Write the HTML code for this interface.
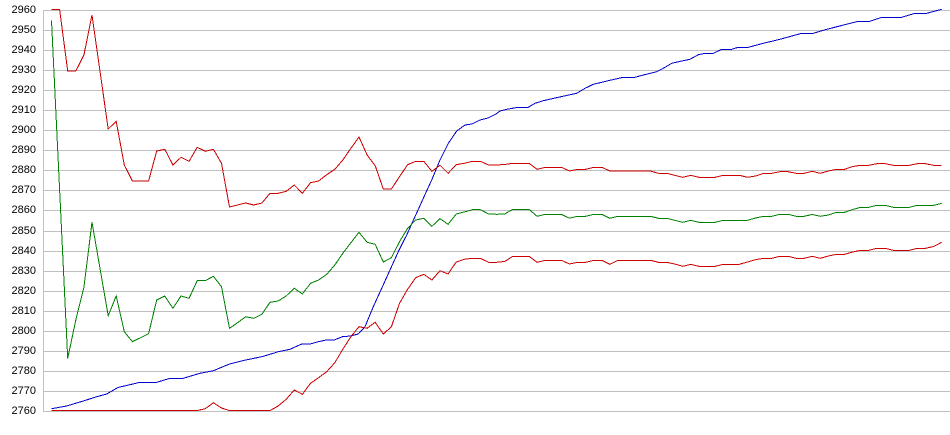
<!DOCTYPE html>
<html>
<head>
<meta charset="utf-8">
<style>
  html, body { margin: 0; padding: 0; background: #ffffff; }
  svg { display: block; }
  text { font-family: "Liberation Sans", Arial, sans-serif; font-size: 11px; fill: #000; }
</style>
</head>
<body>
<svg width="950" height="435" viewBox="0 0 950 435" xmlns="http://www.w3.org/2000/svg">
  <rect x="0" y="0" width="950" height="435" fill="#ffffff"/>
  <g fill="#c0c0c0">
    <rect x="43" y="10" width="907" height="1"/>
    <rect x="43" y="30" width="907" height="1"/>
    <rect x="43" y="50" width="907" height="1"/>
    <rect x="43" y="70" width="907" height="1"/>
    <rect x="43" y="90" width="907" height="1"/>
    <rect x="43" y="110" width="907" height="1"/>
    <rect x="43" y="130" width="907" height="1"/>
    <rect x="43" y="150" width="907" height="1"/>
    <rect x="43" y="170" width="907" height="1"/>
    <rect x="43" y="190" width="907" height="1"/>
    <rect x="43" y="210" width="907" height="1"/>
    <rect x="43" y="231" width="907" height="1"/>
    <rect x="43" y="251" width="907" height="1"/>
    <rect x="43" y="271" width="907" height="1"/>
    <rect x="43" y="291" width="907" height="1"/>
    <rect x="43" y="311" width="907" height="1"/>
    <rect x="43" y="331" width="907" height="1"/>
    <rect x="43" y="351" width="907" height="1"/>
    <rect x="43" y="371" width="907" height="1"/>
    <rect x="43" y="391" width="907" height="1"/>
    <rect x="43" y="411" width="907" height="1"/>
    <rect x="43" y="10" width="1" height="402"/>
  </g>
  <g text-anchor="end">
    <text x="36" y="13">2960</text>
    <text x="36" y="33">2950</text>
    <text x="36" y="53">2940</text>
    <text x="36" y="73">2930</text>
    <text x="36" y="93">2920</text>
    <text x="36" y="113">2910</text>
    <text x="36" y="133">2900</text>
    <text x="36" y="153">2890</text>
    <text x="36" y="173">2880</text>
    <text x="36" y="193">2870</text>
    <text x="36" y="213">2860</text>
    <text x="36" y="234">2850</text>
    <text x="36" y="254">2840</text>
    <text x="36" y="274">2830</text>
    <text x="36" y="294">2820</text>
    <text x="36" y="314">2810</text>
    <text x="36" y="334">2800</text>
    <text x="36" y="354">2790</text>
    <text x="36" y="374">2780</text>
    <text x="36" y="394">2770</text>
    <text x="36" y="414">2760</text>
  </g>
  <g fill="none" stroke-width="1" shape-rendering="crispEdges" stroke-linejoin="miter">
    <polyline stroke="#0000cc" points="51.5,408.7 66.7,406 83.3,401 96.7,396.7 106.7,394 118,387.5 140,382.3 156.7,382.3 170,378.3 183.3,378.3 200,373.3 213.4,370.7 229.5,364 245.7,360 261.9,356.7 270,354.3 278.3,351.7 290,349.3 301.7,344 310.3,344 318.3,341.7 326.3,340 334.3,340 342.3,336.7 350.3,336 358.3,334 365,326.7 373.3,306.7 381.7,288.3 390,270 398.3,251.7 406.7,235 415,216.7 423.3,198.3 431.7,180 440,160 448.3,143.3 456.7,131 465,125 472,124 480,120 488,118 496,114 500,111 506.7,109.3 518.3,107.3 528.3,107.3 535,103.3 543.3,100.7 558.3,97.3 576.7,93.3 585,88.3 593.3,84.3 610,80.3 623.3,77.3 635,77.3 643.3,75 656.7,71.7 663.3,68.3 671.7,63.3 681.7,61 690,59.3 698.3,54.7 705,53.3 713.3,53.3 721.7,49.3 731.7,49.3 738.3,47.3 748.3,47.3 763.3,43.3 780,39.3 801.7,33.3 813.3,33.3 826.7,29.3 858.3,21.3 870,21.3 881.7,17.3 901.7,17.3 915,13.3 926.7,13.3 941.7,9.3"/>
    <polyline stroke="#008000" points="51.5,20.7 59.6,189.5 67.7,358.3 75.8,320 83.9,287.3 92,222.3 100.1,269 108.2,315.7 116.2,296 124.3,331.7 132.4,341.7 140.5,337.7 148.6,333.7 156.7,300 164.8,296 172.9,308.3 181,296 189.1,298.3 197.2,280.7 205.3,280.7 213.4,276.3 221.5,286.7 229.5,328.3 237.6,322.7 245.7,316.7 253.8,318.3 261.9,314.3 270,302.3 278.1,301 286.2,296 294.3,288.3 302.4,294 310.5,283.3 318.6,280 326.7,274.3 334.8,265 342.8,253.3 350.9,242.7 359,232.3 367.1,242.3 375.2,244.3 383.3,262 391.4,257.7 399.5,241.7 407.6,228.3 415.7,220 423.8,218.3 431.9,226.3 440,218.7 448.1,224.3 456.2,214 464.2,212 472.3,209.7 480.4,209.7 488.5,214 496.6,214.3 504.7,214 512.8,209.3 520.9,209.3 529,209.3 537.1,216.3 545.2,214.3 553.3,214.3 561.4,214.3 569.5,218.3 577.5,216.3 585.6,216.3 593.7,214.3 601.8,214.3 609.9,218.3 618,216.3 626.1,216.3 634.2,216.3 642.3,216.3 650.4,216.3 658.5,218.3 666.6,218.3 674.7,220.3 682.8,222.3 690.8,220.3 698.9,222.3 707,222.3 715.1,222.3 723.2,220.3 731.3,220.3 739.4,220.3 747.5,220.3 755.6,218 763.7,216.3 771.8,216.3 779.9,214.3 788,214.3 796.1,216.3 804.1,216.3 812.2,214.5 820.3,216.3 828.4,215 836.5,212.3 844.6,212.3 852.7,209.5 860.8,207.3 868.9,207.3 877,205.3 885.1,205.3 893.2,207.3 901.3,207.3 909.4,207.3 917.5,205.3 925.5,205.3 933.6,205.3 941.7,203.3"/>
    <polyline stroke="#cc0000" points="51.5,410.6 197.2,410.6 205.3,408.7 213.4,402.7 221.5,408 229.5,410.6 270,410.6 278.1,406 286.2,399.3 294.3,390 302.4,394.3 310.5,383.3 318.6,377.7 326.7,371.7 334.8,362.7 342.8,349.3 350.9,336.7 359,326.7 367.1,328.3 375.2,322.3 383.3,334 391.4,326.7 399.5,303.3 407.6,289.3 415.7,277.7 423.8,274.3 431.9,280 440,270.7 448.1,274 456.2,262 464.2,259.3 472.3,258.3 480.4,258.3 488.5,262.3 496.6,262.3 504.7,261.5 512.8,256.3 520.9,256.3 529,256.3 537.1,262.3 545.2,260.3 553.3,260.3 561.4,260.3 569.5,264 577.5,262.3 585.6,262.3 593.7,260.3 601.8,260.3 609.9,264.3 618,260.3 650.4,260.3 658.5,262.3 666.6,262.3 674.7,264 682.8,266.3 690.8,264.3 698.9,266.3 715.1,266.3 723.2,264.3 739.4,264.3 747.5,262 755.6,259.7 763.7,258.3 771.8,258.3 779.9,256.3 788,256.3 796.1,258.3 804.1,258.3 812.2,256.3 820.3,258.3 828.4,256 836.5,254.3 844.6,254.3 852.7,252 860.8,250.3 868.9,250.3 877,248.3 885.1,248.3 893.2,250.3 909.4,250.3 917.5,248.3 925.5,248.3 933.6,246.5 941.7,242.3"/>
    <polyline stroke="#cc0000" points="51.5,9.3 59.6,9.3 67.7,71 75.8,71 83.9,55 92,15 100.1,72 108.2,129 116.2,121.3 124.3,165 132.4,181 140.5,181 148.6,181 156.7,151 164.8,149.3 172.9,165 181,157.3 189.1,161.3 197.2,147.3 205.3,151.3 213.4,149.3 221.5,163.3 229.5,207 237.6,205 245.7,203 253.8,205 261.9,203 270,193.3 278.1,193.3 286.2,191.3 294.3,185 302.4,193.3 310.5,182.7 318.6,181 326.7,174.7 334.8,169.3 342.8,160 350.9,148.3 359,137 367.1,155 375.2,165.7 383.3,189 391.4,189 399.5,176.7 407.6,164.7 415.7,161.3 423.8,161.3 431.9,171.3 440,165.3 448.1,173.3 456.2,164.7 464.2,163.3 472.3,161.3 480.4,161.3 488.5,165 496.6,165 504.7,164.5 512.8,163.3 520.9,163.3 529,163.3 537.1,169.3 545.2,167.3 553.3,167.3 561.4,167.3 569.5,171 577.5,169.3 585.6,169.3 593.7,167.3 601.8,167.3 609.9,171 618,171 626.1,171 634.2,171 642.3,171 650.4,171 658.5,173.3 666.6,173.3 674.7,175.3 682.8,177.3 690.8,175.3 698.9,177.3 707,177.3 715.1,177.3 723.2,175.3 731.3,175.3 739.4,175.3 747.5,177.3 755.6,176 763.7,173.3 771.8,173.3 779.9,171.7 788,171.7 796.1,173.3 804.1,173.3 812.2,171.3 820.3,173.3 828.4,171 836.5,169.3 844.6,169.3 852.7,166.5 860.8,165.3 868.9,165.3 877,163.7 885.1,163.7 893.2,165.3 901.3,165.3 909.4,165.3 917.5,163.7 925.5,163.7 933.6,165.3 941.7,165.3"/>
  </g>
</svg>
</body>
</html>
